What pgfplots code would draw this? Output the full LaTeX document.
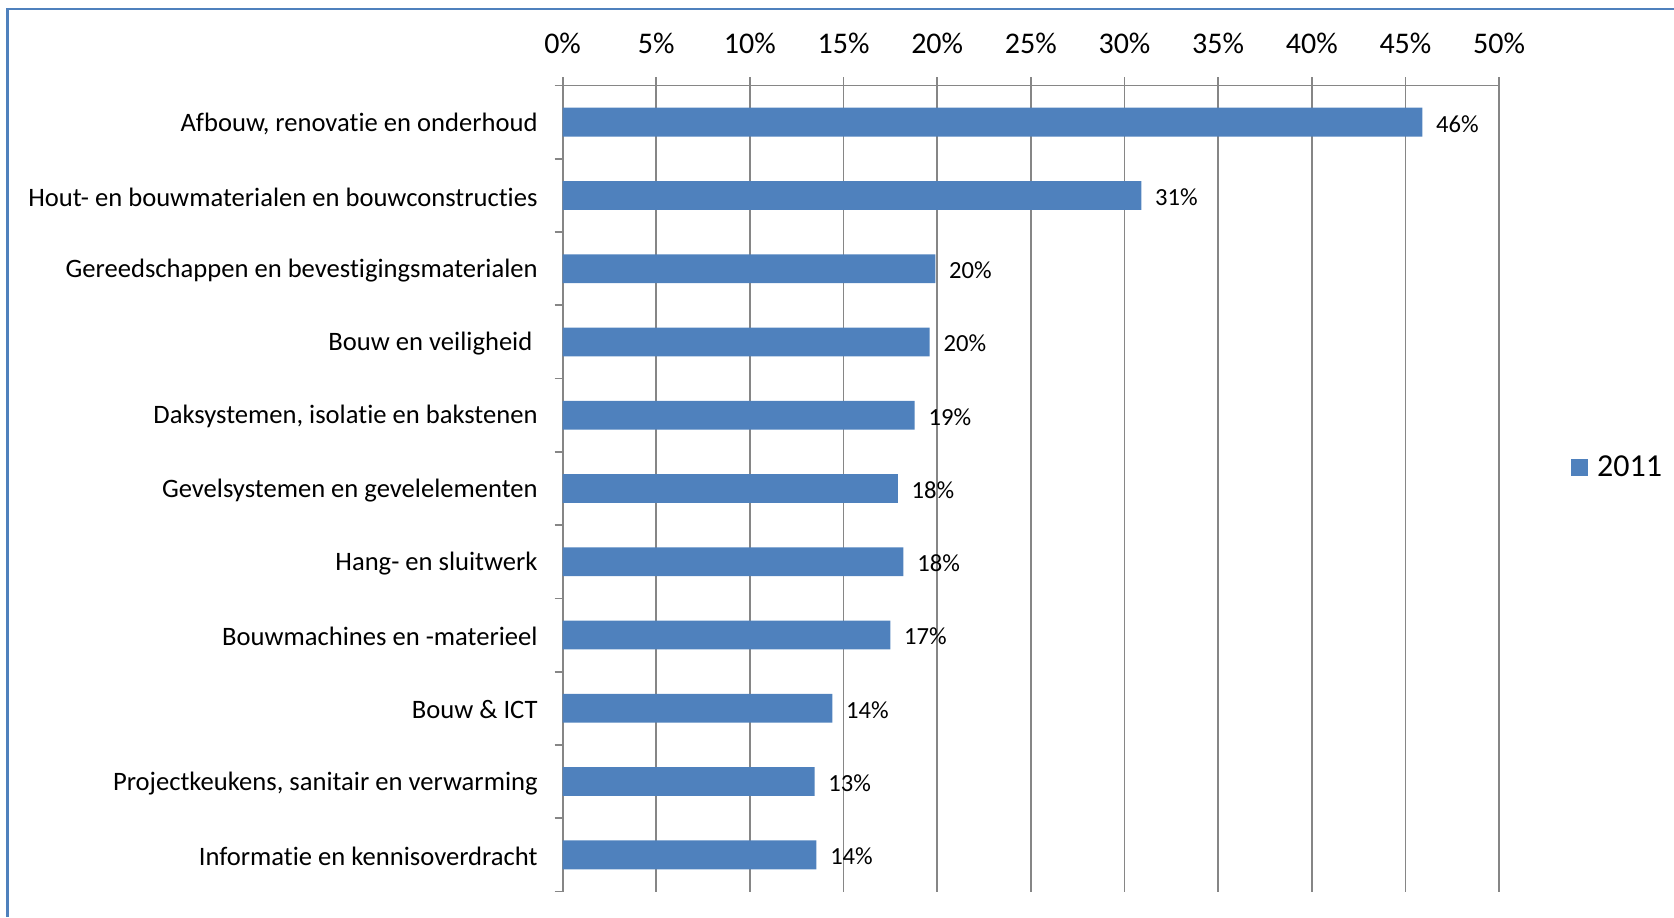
\documentclass[border=0pt]{standalone}
\usepackage{pgfplots}
\pgfplotsset{compat=1.18}
\usepackage{fontspec}
\setmainfont{Carlito}[Ligatures={NoCommon,NoContextual,NoRequired},RawFeature={-liga;-clig;-calt;-dlig;-rlig}]
\definecolor{barblue}{RGB}{79,129,189}
\definecolor{gridgray}{RGB}{134,134,134}
\begin{document}
\begin{tikzpicture}
\useasboundingbox (0pt,0pt) rectangle (837pt,458.5pt);
\draw[barblue, line width=1.2pt] (3.75pt,0pt) -- (3.75pt,454pt) -- (837pt,454pt);
\begin{axis}[
  at={(281.3pt,12.75pt)}, anchor=south west,
  width=468.25pt, height=403pt, scale only axis,
  xmin=0, xmax=50, ymin=-0.5, ymax=10.5,
  axis x line*=top, axis y line*=left,
  axis line style={-, draw=gridgray, line width=0.9pt},
  xbar, bar width=14.4pt,
  xtick={0,5,...,50},
  xticklabels={0\%,5\%,10\%,15\%,20\%,25\%,30\%,35\%,40\%,45\%,50\%},
  xticklabel style={font=\fontsize{15}{18}\selectfont, yshift=8.5pt},
  xmajorgrids, grid style={draw=gridgray, line width=0.9pt},
  tick align=outside, major tick length=4pt, minor tick length=4pt,
  xtick style={draw=gridgray, line width=0.9pt},
  ytick={0,...,10},
  yticklabels={Informatie en kennisoverdracht, Projectkeukens{,} sanitair en verwarming, Bouw \& ICT, Bouwmachines en -materieel, Hang- en sluitwerk, Gevelsystemen en gevelelementen, {Daksystemen, isolatie en bakstenen}, Bouw en veiligheid\kern2.6pt, Gereedschappen en bevestigingsmaterialen, Hout- en bouwmaterialen en bouwconstructies, {Afbouw, renovatie en onderhoud}},
  yticklabel style={font=\fontsize{13.3}{16}\selectfont, xshift=-5pt, yshift=-0.8pt},
  ytick style={draw=none},
  minor ytick={-0.5,0.5,...,10.5},
  minor y tick style={draw=gridgray, line width=0.9pt},
  nodes near coords,
  point meta=explicit symbolic,
  every node near coord/.append style={font=\fontsize{12.3}{14}\selectfont, anchor=west, xshift=3.4pt, yshift=-0.8pt, black},
  legend style={at={(1.0768,0.526)}, anchor=west, draw=none, fill=none, font=\fontsize{16}{18}\selectfont, inner sep=0pt, nodes={inner xsep=4.4pt}},
  legend image code/.code={\fill[barblue] (0pt,-4.25pt) rectangle (8.5pt,4.25pt);},
]
\addplot[fill=barblue, draw=none] coordinates {
  (13.55,0) [14\%]
  (13.45,1) [13\%]
  (14.4,2) [14\%]
  (17.5,3) [17\%]
  (18.2,4) [18\%]
  (17.9,5) [18\%]
  (18.8,6) [19\%]
  (19.6,7) [20\%]
  (19.9,8) [20\%]
  (30.9,9) [31\%]
  (45.9,10) [46\%]
};
\addlegendentry{2011}
\end{axis}
\end{tikzpicture}
\end{document}
